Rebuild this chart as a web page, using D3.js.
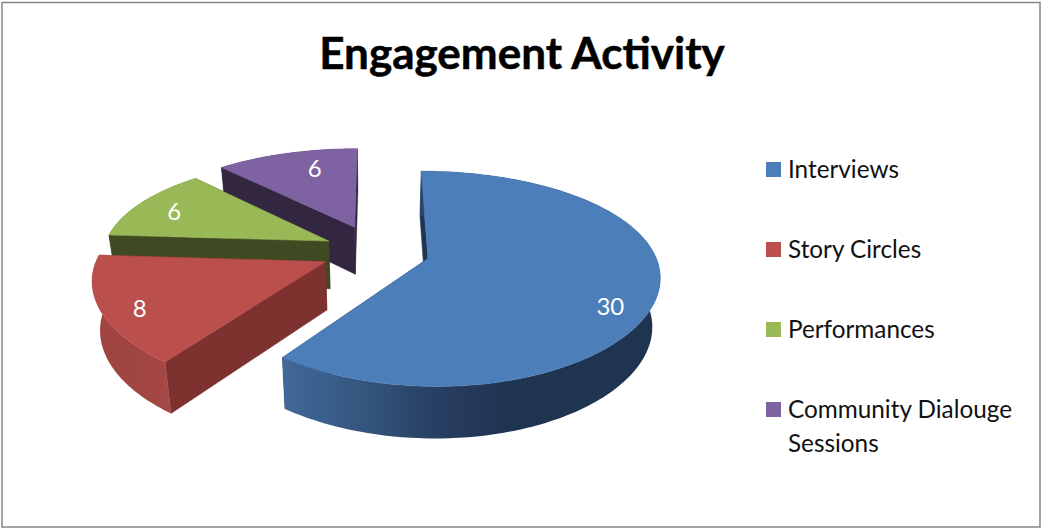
<!DOCTYPE html>
<html>
<head>
<meta charset="utf-8">
<script src="https://cdn.jsdelivr.net/npm/d3@7.9.0/dist/d3.min.js"></script>
<style>
  html, body { margin: 0; padding: 0; background: #fff; }
  svg { display: block; }
  text { font-family: Lato, "Open Sans", sans-serif; }
</style>
</head>
<body>
<svg width="1041" height="529"></svg>
<script>
const categories = ['Interviews', 'Story Circles', 'Performances', 'Community Dialouge Sessions'];
const values = [30, 8, 6, 6];
const colors = ['#4c7eba', '#bb4f4c', '#99b957', '#7f62a1'];
const sideColors = ['#1f3450', '#7d3230', '#3f4922', '#332640'];
// rim shading left to right across each slice's wall
const rimColors = [
  ['#41699b', '#35577f', '#293f63', '#1f3450', '#1f3450', '#1f3450'],
  ['#a04441', '#a04441', '#a64946'],
  ['#3f4922', '#3f4922'],
  ['#332640', '#332640']
];
const explodeBy = [54, 55, 53, 60];
const labelNudge = [[0, 21], [-8, 9], [-3, 2], [16, 2]];

const svg = d3.select('svg');
const defs = svg.append('defs');

// chart border
svg.append('rect')
  .attr('x', 2).attr('y', 2.5).attr('width', 1038).attr('height', 524.5)
  .attr('fill', '#fff').attr('stroke', '#868686').attr('stroke-width', 1.5);

svg.append('text')
  .attr('x', 522).attr('y', 69)
  .attr('text-anchor', 'middle')
  .attr('font-size', 44)
  .attr('font-weight', 700)
  .attr('stroke', '#000')
  .attr('stroke-width', 0.5)
  .text('Engagement Activity');

// pie in its own plane, then a cheap perspective onto the screen
const radius = 226, depth = 48;
const cx = 376, cy = 251;
const kx = 0.00065, ky = 0.00082, tilt = 0.447;

function project(wx, wy, down = 0) {
  const sx = 1 / (1 - kx * wy);
  const sy = tilt / (1 - ky * wy);
  const shrink = 1 - 0.028 * down;
  return [
    cx + wx * sx * shrink,
    cy + wy * sy + depth * down * (1 + 0.00035 * wy)
  ];
}

const line = d3.line();
const pie = d3.pie().sort(null).value(d => d);
const arcs = pie(values).map((a, i) => {
  const mid = (a.startAngle + a.endAngle) / 2;
  return {
    i,
    start: a.startAngle,
    end: a.endAngle,
    mid,
    ox: explodeBy[i] * Math.sin(mid),
    oy: -explodeBy[i] * Math.cos(mid)
  };
});

function rimPoint(s, angle, r, down = 0) {
  return project(s.ox + r * Math.sin(angle), s.oy - r * Math.cos(angle), down);
}

// far slices first so the nearer ones cover them
const order = arcs.slice().sort((a, b) => a.oy - b.oy);

order.forEach(s => {
  const g = svg.append('g');
  const side = sideColors[s.i];
  const apex = project(s.ox, s.oy);
  const apexLow = project(s.ox, s.oy, 1);
  const angleAt = d3.scaleLinear().domain([0, 1]).range([s.start, s.end]);
  const n = Math.ceil((s.end - s.start) / 0.02);
  const steps = d3.range(n + 1).map(k => angleAt(k / n));

  [s.start, s.end].forEach(angle => {
    const d = line([apex, rimPoint(s, angle, radius), rimPoint(s, angle, radius, 1), apexLow]) + 'Z';
    g.append('path').attr('d', d).attr('fill', side).attr('stroke', side).attr('stroke-width', 0.5);
  });

  const topEdge = steps.map(a => rimPoint(s, a, radius));
  const lowEdge = steps.map(a => rimPoint(s, a, radius, 1));

  // rim wall, shaded across its width
  const [x0, x1] = d3.extent(topEdge.concat(lowEdge), p => p[0]);
  const grad = defs.append('linearGradient')
    .attr('id', 'rim' + s.i)
    .attr('gradientUnits', 'userSpaceOnUse')
    .attr('x1', x0).attr('x2', x1).attr('y1', 0).attr('y2', 0);
  rimColors[s.i].forEach((c, k) => {
    grad.append('stop')
      .attr('offset', k / (rimColors[s.i].length - 1))
      .attr('stop-color', c);
  });
  g.append('path')
    .attr('d', line(topEdge.concat(lowEdge.slice().reverse())) + 'Z')
    .attr('fill', `url(#rim${s.i})`);

  // top face
  g.append('path')
    .attr('d', line([apex].concat(topEdge)) + 'Z')
    .attr('fill', colors[s.i])
    .attr('stroke', colors[s.i])
    .attr('stroke-width', 0.5);
});

// value labels
arcs.forEach(s => {
  const p = rimPoint(s, s.mid, radius * 0.8);
  svg.append('text')
    .attr('x', p[0] + labelNudge[s.i][0])
    .attr('y', p[1] + labelNudge[s.i][1])
    .attr('dy', '0.35em')
    .attr('text-anchor', 'middle')
    .attr('font-size', 24)
    .attr('fill', '#fff')
    .text(values[s.i]);
});

// legend
const legendY = d3.scalePoint().domain(categories).range([178, 418]);
const legend = svg.selectAll('g.legend').data(categories).join('g').attr('class', 'legend');
legend.append('rect')
  .attr('x', 766)
  .attr('y', d => legendY(d) - 16)
  .attr('width', 15).attr('height', 15)
  .attr('fill', (d, i) => colors[i]);
legend.each(function (d) {
  const words = d === 'Community Dialouge Sessions' ? ['Community Dialouge', 'Sessions'] : [d];
  words.forEach((w, j) => {
    d3.select(this).append('text')
      .attr('x', 788)
      .attr('y', legendY(d) + j * 34)
      .attr('font-size', 24.3)
      .attr('fill', '#111')
      .text(w);
  });
});
</script>
</body>
</html>
